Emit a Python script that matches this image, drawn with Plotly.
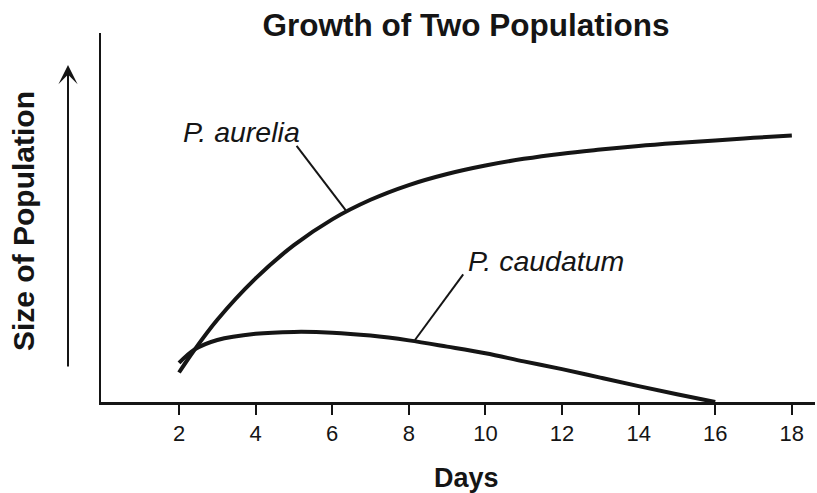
import plotly.graph_objects as go

# ---- data ----
days_aurelia = [2, 2.4, 3, 4, 5, 6, 7, 8, 9, 10, 11, 12, 13, 14, 15, 16, 17, 18]
size_aurelia = [8.0, 14.1, 22.3, 33.5, 42.5, 49.5, 54.8, 58.8, 61.8, 64.1, 65.9, 67.3, 68.4, 69.4, 70.2, 70.9, 71.6, 72.2]

days_caudatum = [2, 2.4, 3, 4, 5, 6, 7, 8, 9, 10, 11, 12, 13, 14, 15, 16]
size_caudatum = [10.6, 14.2, 16.8, 18.5, 19.0, 18.8, 18.0, 16.7, 15.0, 13.2, 11.0, 8.9, 6.6, 4.3, 2.1, 0.0]

tick_days = [2, 4, 6, 8, 10, 12, 14, 16, 18]
tick_labels = ["2", "4", "6", "8", "10", "12", "14", "16", "18"]

label_aurelia = "P. aurelia"
label_caudatum = "P. caudatum"
# leader lines (label end -> curve end), in data units
leader_aurelia_x = [5.07, 6.35]
leader_aurelia_y = [69.4, 52.0]
leader_caudatum_x = [9.42, 8.16]
leader_caudatum_y = [34.6, 16.8]
label_aurelia_pos = (2.04, 73.2)
label_caudatum_pos = (9.48, 38.2)

INK = "#151515"
FONT = "Liberation Sans, Arial, Helvetica, sans-serif"

fig = go.Figure()
fig.add_trace(go.Scatter(x=days_aurelia, y=size_aurelia, mode="lines",
                         line=dict(color=INK, width=4, shape="spline", smoothing=1.0),
                         cliponaxis=False, hoverinfo="skip"))
fig.add_trace(go.Scatter(x=days_caudatum, y=size_caudatum, mode="lines",
                         line=dict(color=INK, width=4, shape="spline", smoothing=1.0),
                         cliponaxis=False, hoverinfo="skip"))
fig.add_trace(go.Scatter(x=leader_aurelia_x, y=leader_aurelia_y, mode="lines",
                         line=dict(color=INK, width=2), cliponaxis=False, hoverinfo="skip"))
fig.add_trace(go.Scatter(x=leader_caudatum_x, y=leader_caudatum_y, mode="lines",
                         line=dict(color=INK, width=2), cliponaxis=False, hoverinfo="skip"))

W, H = 817, 493
L, R, T, B = 101, 2, 33, 91
pw = W - L - R
ph = H - T - B

fig.update_layout(
    width=W, height=H,
    margin=dict(l=L, r=R, t=T, b=B, pad=0, autoexpand=False),
    paper_bgcolor="white", plot_bgcolor="white",
    showlegend=False,
    font=dict(family=FONT, color=INK),
    title=dict(text="<b>Growth of Two Populations</b>", font=dict(size=31.5, family=FONT, color=INK),
               xref="container", x=466 / W, xanchor="center",
               yref="container", y=1 - 25 / H, yanchor="middle"),
    xaxis=dict(range=[-0.037, 18.605], showgrid=False, zeroline=False, automargin=False,
               showline=True, linecolor=INK, linewidth=2.5,
               ticks="outside", ticklen=10, tickwidth=2, tickcolor=INK,
               tickvals=tick_days, ticktext=tick_labels,
               tickfont=dict(size=22, family=FONT, color=INK)),
    yaxis=dict(range=[0, 100], showgrid=False, zeroline=False, automargin=False,
               showline=True, linecolor=INK, linewidth=2.5,
               showticklabels=False, ticks=""),
)

annotations = [
    dict(text=label_aurelia, x=label_aurelia_pos[0], y=label_aurelia_pos[1], xref="x", yref="y",
         xanchor="left", yanchor="middle", showarrow=False,
         font=dict(size=28.5, family=FONT, color=INK, style="italic")),
    dict(text=label_caudatum, x=label_caudatum_pos[0], y=label_caudatum_pos[1], xref="x", yref="y",
         xanchor="left", yanchor="middle", showarrow=False,
         font=dict(size=28.5, family=FONT, color=INK, style="italic")),
    dict(text="<b>Days</b>", x=(466 - L) / pw, y=-(478 - (T + ph)) / ph, xref="paper", yref="paper",
         xanchor="center", yanchor="middle", showarrow=False,
         font=dict(size=27, family=FONT, color=INK)),
    dict(text="<b>Size of Population</b>", x=(23 - L) / pw, y=(T + ph - 221) / ph, xref="paper", yref="paper",
         xanchor="center", yanchor="middle", textangle=-90, showarrow=False,
         font=dict(size=30, family=FONT, color=INK)),
    # axis-direction arrow
    dict(text="", x=(68 - L) / pw, y=(T + ph - 65) / ph, xref="paper", yref="paper",
         showarrow=True, ax=0, ay=303, axref="pixel", ayref="pixel",
         arrowhead=3, arrowsize=1.6, arrowwidth=2, arrowcolor=INK, standoff=0),
]
fig.update_layout(annotations=annotations)

fig.write_html("out.html",
               config={"displayModeBar": False, "staticPlot": True},
               post_script="document.body.style.margin='0';document.body.style.padding='0';"
                           "document.body.style.overflow='hidden';")
